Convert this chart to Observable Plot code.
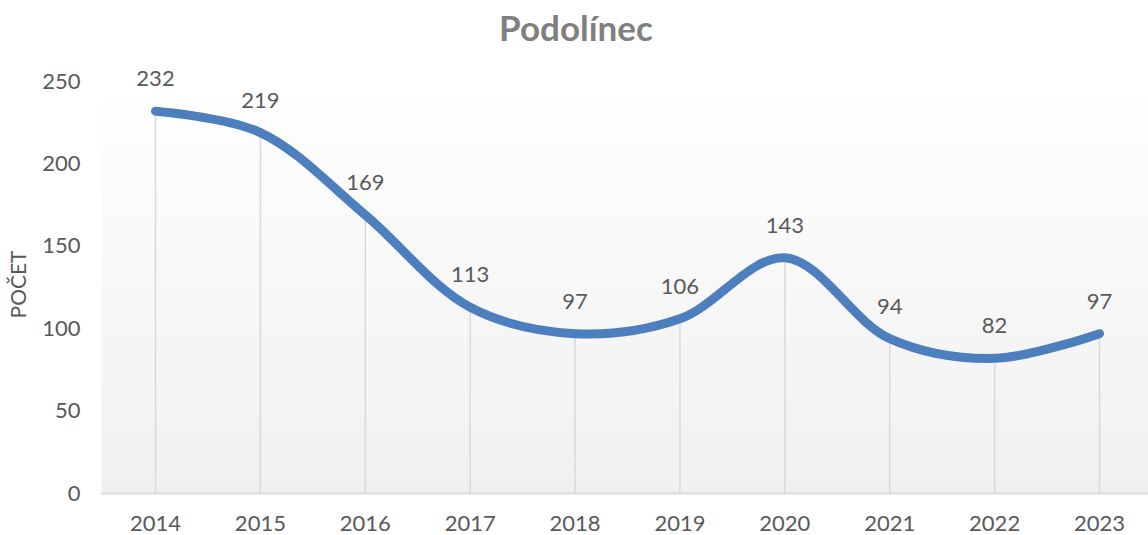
<!DOCTYPE html>
<html>
<head>
<meta charset="utf-8">
<script src="https://cdn.jsdelivr.net/npm/d3@7"></script>
<script src="https://cdn.jsdelivr.net/npm/@observablehq/plot@0.6"></script>
<style>
  html, body { margin: 0; padding: 0; background: #fff; }
  body { width: 1148px; height: 535px; overflow: hidden; font-family: Lato, "Open Sans", sans-serif; }
  #title { height: 55px; line-height: 55px; text-align: center; font-size: 35px; font-weight: bold; color: #7f7f7f; padding-left: 4px; }
</style>
</head>
<body>
<div id="title">Podolínec</div>
<div id="chart"></div>
<script>
const years = [2014, 2015, 2016, 2017, 2018, 2019, 2020, 2021, 2022, 2023];
const counts = [232, 219, 169, 113, 97, 106, 143, 94, 82, 97];
const yTicks = [0, 50, 100, 150, 200, 250];
const yLabel = "POČET";

const data = years.map((y, i) => ({year: String(y), value: counts[i]}));

const plot = Plot.plot({
  width: 1148,
  height: 480,
  marginTop: 26,
  marginBottom: 42,
  marginLeft: 101,
  marginRight: 0,
  style: {fontFamily: "Lato, 'Open Sans', sans-serif", fontSize: "22px", color: "#595959", background: "transparent"},
  x: {type: "point", domain: years.map(String), range: [155, 1099], padding: 0, round: false, label: null},
  y: {domain: [0, 250], label: null},
  marks: [
    Plot.frame({fill: "url(#plotbg)", stroke: "none"}),
    Plot.ruleX(data, {x: "year", y1: 0, y2: "value", stroke: "#d9d9d9", strokeWidth: 1.5}),
    Plot.ruleY([0], {stroke: "#d9d9d9", strokeWidth: 2}),
    Plot.axisY({ticks: yTicks, tickSize: 0, tickPadding: 21, label: null, fill: "#595959"}),
    Plot.axisX({tickSize: 0, tickPadding: 22, label: null, fill: "#595959"}),
    Plot.line(data, {x: "year", y: "value", curve: "catmull-rom", stroke: "#4d7ebd", strokeWidth: 9, strokeLinecap: "round", strokeLinejoin: "round"}),
    Plot.text(data, {x: "year", y: "value", text: d => String(d.value), dy: -32, fill: "#595959", fontSize: 22}),
    Plot.text([yLabel], {frameAnchor: "left", textAnchor: "middle", rotate: -90, dx: -82, dy: -3, text: d => d, fill: "#595959", fontSize: 21})
  ]
});

const svg = d3.select(plot);
const defs = svg.insert("defs", ":first-child");
const g = defs.append("linearGradient").attr("id", "plotbg").attr("x1", 0).attr("y1", 0).attr("x2", 0).attr("y2", 1);
g.append("stop").attr("offset", "0%").attr("stop-color", "#ffffff");
g.append("stop").attr("offset", "100%").attr("stop-color", "#f0f0f0");

document.getElementById("chart").appendChild(plot);
</script>
</body>
</html>
